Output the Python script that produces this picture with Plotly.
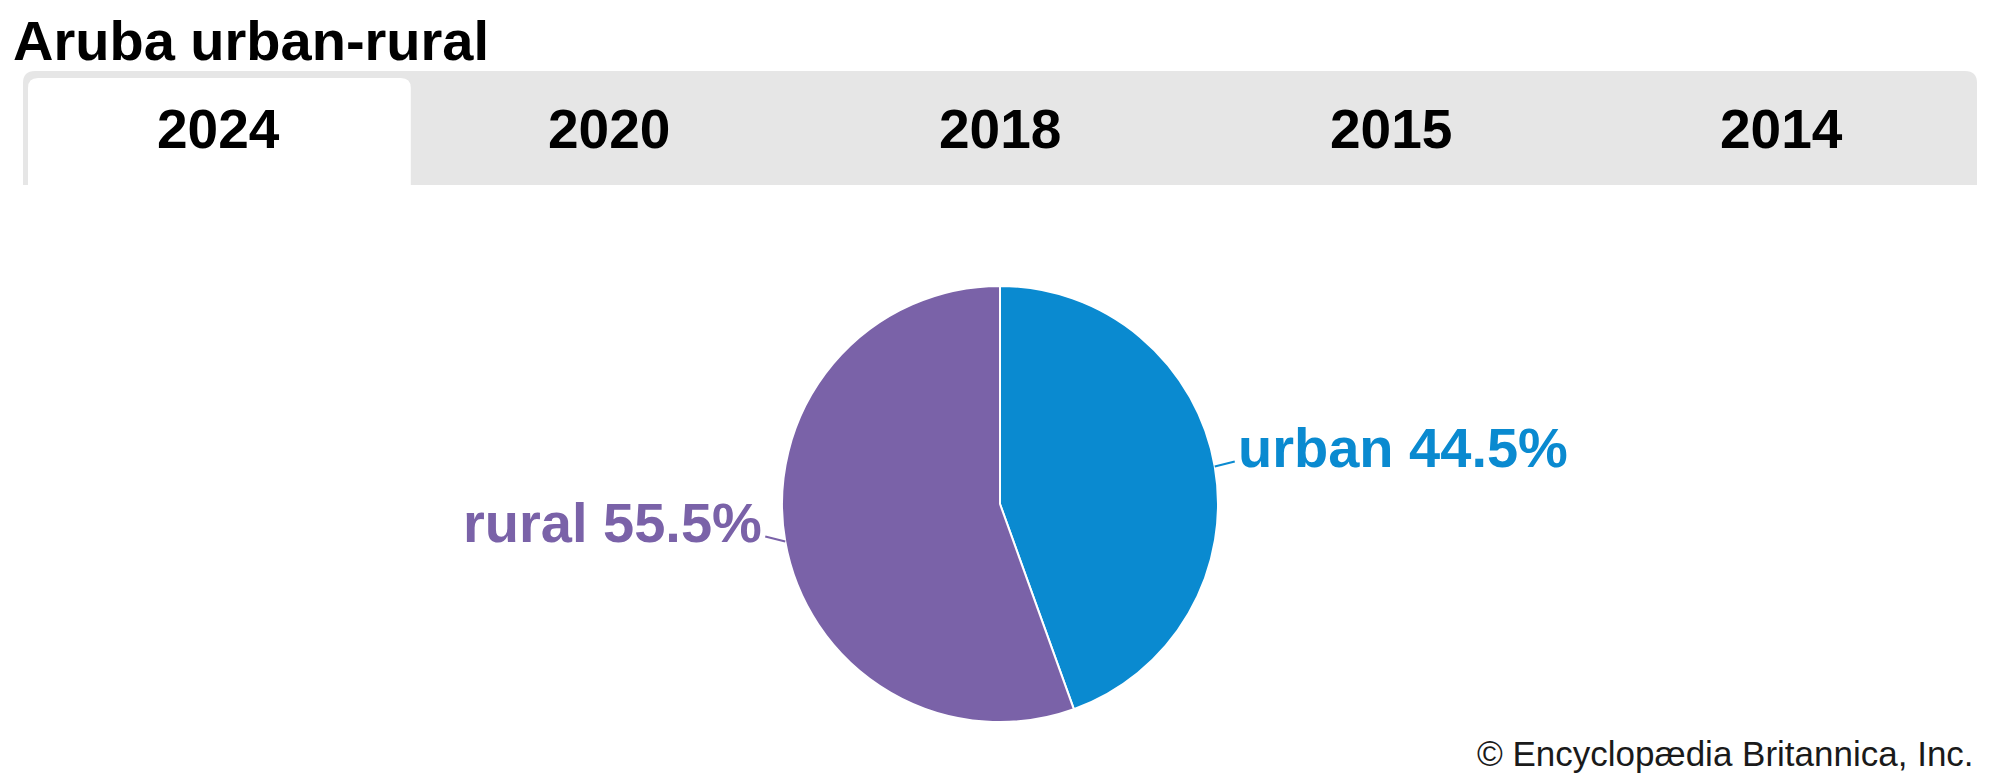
import math
import plotly.graph_objects as go

# ---- data ----
title_text = "Aruba urban-rural"
tab_years = ["2024", "2020", "2018", "2015", "2014"]
active_year = "2024"
categories = ["urban", "rural"]
shares = [44.5, 55.5]
slice_colors = ["#0a8ad0", "#7a62a8"]
credit_text = "© Encyclopædia Britannica, Inc."

# page body has an 8px margin; work in reference-pixel coords and shift
OFF = 8
FW, FH = 2000 - OFF, 778 - OFF
FONT = "Liberation Sans, Arial, sans-serif"


def px(x):
    return x - OFF


def py(y):
    return y - OFF


fig = go.Figure()

fig.update_layout(
    xaxis=dict(range=[0, FW], visible=False, fixedrange=True, domain=[0, 1]),
    yaxis=dict(range=[FH, 0], visible=False, fixedrange=True, domain=[0, 1]),
)

pie_cx, pie_cy, pie_r = 1000, 504, 218
fig.add_trace(go.Pie(
    labels=categories,
    values=shares,
    sort=False,
    direction="clockwise",
    rotation=0,
    marker=dict(colors=slice_colors, line=dict(color="white", width=2)),
    textinfo="none",
    hoverinfo="label+value",
    showlegend=False,
    domain=dict(x=[px(pie_cx - pie_r) / FW, px(pie_cx + pie_r) / FW],
                y=[1 - py(pie_cy + pie_r) / FH, 1 - py(pie_cy - pie_r) / FH]),
))


def rounded_top_rect(x0, y0, x1, y1, r):
    x0, x1, y0, y1 = px(x0), px(x1), py(y0), py(y1)
    return (f"M {x0},{y1} L {x0},{y0 + r} Q {x0},{y0} {x0 + r},{y0} "
            f"L {x1 - r},{y0} Q {x1},{y0} {x1},{y0 + r} L {x1},{y1} Z")


shapes = []
annotations = []
bar_x0, bar_x1, bar_y0, bar_y1 = 23, 1977, 71, 185
shapes.append(dict(type="path", xref="x", yref="y",
                   path=rounded_top_rect(bar_x0, bar_y0, bar_x1, bar_y1, 12),
                   fillcolor="#e6e6e6", line=dict(width=0), layer="below"))
tab_w = (bar_x1 - bar_x0) / len(tab_years)
for i, yr in enumerate(tab_years):
    tx0 = bar_x0 + i * tab_w
    if yr == active_year:
        shapes.append(dict(type="path", xref="x", yref="y",
                           path=rounded_top_rect(tx0 + 5, bar_y0 + 7, tx0 + tab_w - 3, bar_y1, 10),
                           fillcolor="white", line=dict(width=0), layer="below"))
    annotations.append(dict(x=px(tx0 + tab_w / 2), y=py(129), xref="x", yref="y", text=yr,
                            showarrow=False, xanchor="center", yanchor="middle",
                            font=dict(family=FONT, size=55, color="black", weight="bold")))

# slice labels and short leader lines placed at each slice's mid-angle
total = sum(shares)
acc = 0
for lab, v, c in zip(categories, shares, slice_colors):
    mid = (acc + v / 2) / total * 2 * math.pi
    acc += v
    sx = pie_cx + pie_r * math.sin(mid)
    sy = pie_cy - pie_r * math.cos(mid)
    side = 1 if math.sin(mid) > 0 else -1
    ex, ey = sx + side * 20, sy - 5
    shapes.append(dict(type="line", xref="x", yref="y",
                       x0=px(sx), y0=py(sy), x1=px(ex), y1=py(ey),
                       line=dict(color=c, width=2)))
    annotations.append(dict(x=px(ex + side * 1), y=py(sy - 19), xref="x", yref="y",
                            text=f"{lab} {v:.1f}%", showarrow=False,
                            xanchor="left" if side > 0 else "right", yanchor="middle",
                            font=dict(family=FONT, size=56, color=c, weight="bold")))

annotations.append(dict(x=px(11), y=py(40), xref="x", yref="y", text=f"<b>{title_text}</b>",
                        showarrow=False, xanchor="left", yanchor="middle",
                        font=dict(family=FONT, size=56, color="black")))
annotations.append(dict(x=px(1976), y=py(753), xref="x", yref="y", text=credit_text,
                        showarrow=False, xanchor="right", yanchor="middle",
                        font=dict(family=FONT, size=35, color="#1a1a1a")))

fig.update_layout(
    width=FW, height=FH,
    margin=dict(l=0, r=0, t=0, b=0),
    paper_bgcolor="white", plot_bgcolor="white",
    shapes=shapes, annotations=annotations,
)

fig.write_html("out.html", config={"displayModeBar": False})
